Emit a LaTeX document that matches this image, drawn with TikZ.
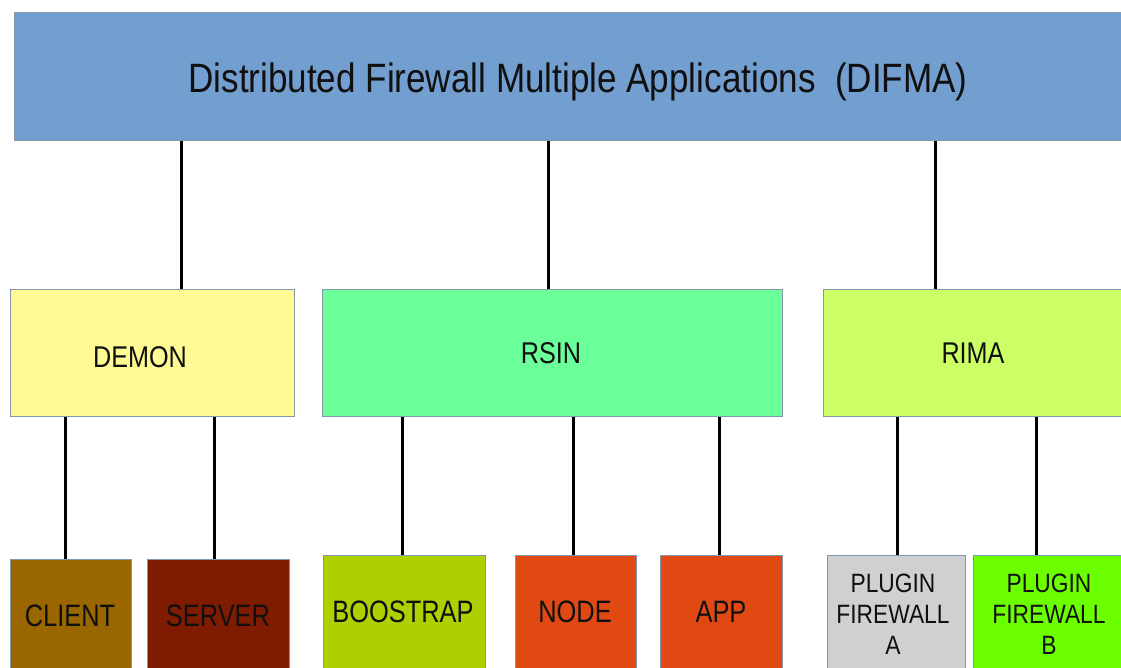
\documentclass[tikz,border=0pt]{standalone}
\usepackage{fontspec}
\setmainfont{Liberation Sans}
\usepackage{graphicx}
\definecolor{cTop}{HTML}{729FCF}
\definecolor{cDemon}{HTML}{FFFA93}
\definecolor{cRsin}{HTML}{6AFF98}
\definecolor{cRima}{HTML}{CCFF66}
\definecolor{cClient}{HTML}{996600}
\definecolor{cServer}{HTML}{7F1B00}
\definecolor{cBoot}{HTML}{AECF00}
\definecolor{cOrange}{HTML}{E04A12}
\definecolor{cPlugA}{HTML}{D0D0D0}
\definecolor{cPlugB}{HTML}{6BFF00}
\definecolor{cEdge}{HTML}{8496AA}
\definecolor{cText}{HTML}{101010}
\tikzset{
  box/.style={draw=cEdge, line width=0.9pt, anchor=north west, inner sep=0pt},
  link/.style={draw=black, line width=3pt},
  lbl/.style={text=cText, inner sep=0pt, align=center},
}
% horizontally condensed label
\newcommand{\cond}[3]{\scalebox{#1}[1]{\fontsize{#2}{#2}\selectfont #3}}
\begin{document}
\begin{tikzpicture}[x=1pt,y=1pt]
\useasboundingbox (0,0) rectangle (1121,-668);

% boxes
\node[box, fill=cTop,    minimum width=1115pt, minimum height=128pt] (top)    at (14,-12)  {};
\node[box, fill=cDemon,  minimum width=284pt,  minimum height=127pt] (demon)  at (10,-289)  {};
\node[box, fill=cRsin,   minimum width=460pt,  minimum height=127pt] (rsin)   at (322,-289) {};
\node[box, fill=cRima,   minimum width=306pt,  minimum height=127pt] (rima)   at (823,-289) {};
\node[box, fill=cClient, minimum width=121pt,  minimum height=120pt] (client) at (10,-559)  {};
\node[box, fill=cServer, minimum width=142pt,  minimum height=120pt] (server) at (147,-559) {};
\node[box, fill=cBoot,   minimum width=162pt,  minimum height=124pt] (boot)   at (323,-555) {};
\node[box, fill=cOrange, minimum width=121pt,  minimum height=124pt] (node)   at (515,-555) {};
\node[box, fill=cOrange, minimum width=122pt,  minimum height=124pt] (app)    at (660,-555) {};
\node[box, fill=cPlugA,  minimum width=138pt,  minimum height=124pt] (pluga)  at (827,-555) {};
\node[box, fill=cPlugB,  minimum width=156pt,  minimum height=124pt] (plugb)  at (973,-555) {};

% labels
\node[lbl] (ttop) at (578,-82) {\cond{0.855}{41}{Distributed Firewall Multiple Applications\ \ (DIFMA)}};
\node[lbl] (tdemon) at (140,-357) {\cond{0.84}{30}{DEMON}};
\node[lbl] (trsin)  at (551,-353) {\cond{0.84}{30}{RSIN}};
\node[lbl] (trima)  at (973,-353) {\cond{0.84}{30}{RIMA}};
\node[lbl] (tclient) at (70,-616)  {\cond{0.82}{31}{CLIENT}};
\node[lbl] (tserver) at (218,-616) {\cond{0.82}{31}{SERVER}};
\node[lbl] (tboot)   at (403,-612) {\cond{0.82}{31}{BOOSTRAP}};
\node[lbl] (tnode)   at (575,-612) {\cond{0.82}{31}{NODE}};
\node[lbl] (tapp)    at (721,-612) {\cond{0.82}{31}{APP}};
\node[lbl] (tpluga)  at (893,-617) {\scalebox{0.86}[1]{\fontsize{26.5}{31}\selectfont\begin{tabular}{@{}c@{}}PLUGIN\\FIREWALL\\A\end{tabular}}};
\node[lbl] (tplugb)  at (1049,-617) {\scalebox{0.86}[1]{\fontsize{26.5}{31}\selectfont\begin{tabular}{@{}c@{}}PLUGIN\\FIREWALL\\B\end{tabular}}};

% connectors
\draw[link] (top.south -| 181,0) -- (demon.north -| 181,0);
\draw[link] (top.south -| 548,0) -- (rsin.north -| 548,0);
\draw[link] (top.south -| 935,0) -- (rima.north -| 935,0);
\draw[link] (demon.south -| 65,0)  -- (client.north -| 65,0);
\draw[link] (demon.south -| 214,0) -- (server.north -| 214,0);
\draw[link] (rsin.south -| 402,0) -- (boot.north -| 402,0);
\draw[link] (rsin.south -| 573,0) -- (node.north -| 573,0);
\draw[link] (rsin.south -| 719,0) -- (app.north -| 719,0);
\draw[link] (rima.south -| 897,0)  -- (pluga.north -| 897,0);
\draw[link] (rima.south -| 1036,0) -- (plugb.north -| 1036,0);
\end{tikzpicture}
\end{document}
